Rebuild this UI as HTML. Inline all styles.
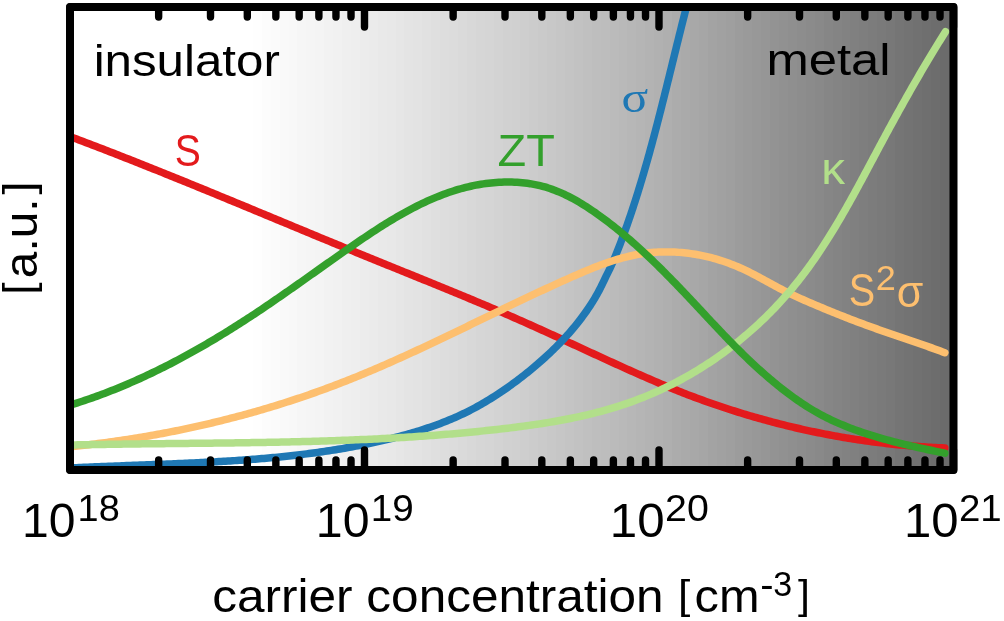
<!DOCTYPE html><html><head><meta charset="utf-8"><style>html,body{margin:0;padding:0;background:#fff;overflow:hidden}svg{display:block;will-change:transform}text{font-family:"Liberation Sans",sans-serif}</style></head><body>
<svg width="1004" height="621" viewBox="0 0 1004 621">
<defs><clipPath id="ax"><rect x="70.00" y="7.00" width="883.50" height="463.00"/></clipPath></defs>
<g clip-path="url(#ax)" shape-rendering="crispEdges"><rect x="252.82" y="7.0" width="9.52" height="463.0" fill="#fefefe"/><rect x="261.74" y="7.0" width="9.52" height="463.0" fill="#fcfcfc"/><rect x="270.66" y="7.0" width="9.52" height="463.0" fill="#fbfbfb"/><rect x="279.58" y="7.0" width="9.52" height="463.0" fill="#f9f9f9"/><rect x="288.50" y="7.0" width="9.52" height="463.0" fill="#f8f8f8"/><rect x="297.42" y="7.0" width="9.52" height="463.0" fill="#f6f6f6"/><rect x="306.34" y="7.0" width="9.52" height="463.0" fill="#f5f5f5"/><rect x="315.26" y="7.0" width="9.52" height="463.0" fill="#f4f4f4"/><rect x="324.18" y="7.0" width="9.52" height="463.0" fill="#f2f2f2"/><rect x="333.10" y="7.0" width="9.52" height="463.0" fill="#f1f1f1"/><rect x="342.02" y="7.0" width="9.52" height="463.0" fill="#efefef"/><rect x="350.94" y="7.0" width="9.52" height="463.0" fill="#eeeeee"/><rect x="359.86" y="7.0" width="9.52" height="463.0" fill="#ececec"/><rect x="368.78" y="7.0" width="9.52" height="463.0" fill="#ebebeb"/><rect x="377.70" y="7.0" width="9.52" height="463.0" fill="#e9e9e9"/><rect x="386.62" y="7.0" width="9.52" height="463.0" fill="#e8e8e8"/><rect x="395.54" y="7.0" width="9.52" height="463.0" fill="#e6e6e6"/><rect x="404.46" y="7.0" width="9.52" height="463.0" fill="#e4e4e4"/><rect x="413.38" y="7.0" width="9.52" height="463.0" fill="#e3e3e3"/><rect x="422.30" y="7.0" width="9.52" height="463.0" fill="#e1e1e1"/><rect x="431.22" y="7.0" width="9.52" height="463.0" fill="#dfdfdf"/><rect x="440.14" y="7.0" width="9.52" height="463.0" fill="#dddddd"/><rect x="449.06" y="7.0" width="9.52" height="463.0" fill="#dcdcdc"/><rect x="457.98" y="7.0" width="9.52" height="463.0" fill="#dadada"/><rect x="466.90" y="7.0" width="9.52" height="463.0" fill="#d8d8d8"/><rect x="475.82" y="7.0" width="9.52" height="463.0" fill="#d6d6d6"/><rect x="484.74" y="7.0" width="9.52" height="463.0" fill="#d5d5d5"/><rect x="493.66" y="7.0" width="9.52" height="463.0" fill="#d3d3d3"/><rect x="502.58" y="7.0" width="9.52" height="463.0" fill="#d1d1d1"/><rect x="511.50" y="7.0" width="9.52" height="463.0" fill="#d0d0d0"/><rect x="520.42" y="7.0" width="9.52" height="463.0" fill="#cecece"/><rect x="529.34" y="7.0" width="9.52" height="463.0" fill="#cccccc"/><rect x="538.26" y="7.0" width="9.52" height="463.0" fill="#cacaca"/><rect x="547.18" y="7.0" width="9.52" height="463.0" fill="#c8c8c8"/><rect x="556.10" y="7.0" width="9.52" height="463.0" fill="#c6c6c6"/><rect x="565.02" y="7.0" width="9.52" height="463.0" fill="#c4c4c4"/><rect x="573.94" y="7.0" width="9.52" height="463.0" fill="#c2c2c2"/><rect x="582.86" y="7.0" width="9.52" height="463.0" fill="#c0c0c0"/><rect x="591.78" y="7.0" width="9.52" height="463.0" fill="#bebebe"/><rect x="600.70" y="7.0" width="9.52" height="463.0" fill="#bdbdbd"/><rect x="609.62" y="7.0" width="9.52" height="463.0" fill="#bbbbbb"/><rect x="618.54" y="7.0" width="9.52" height="463.0" fill="#b9b9b9"/><rect x="627.46" y="7.0" width="9.52" height="463.0" fill="#b7b7b7"/><rect x="636.38" y="7.0" width="9.52" height="463.0" fill="#b5b5b5"/><rect x="645.30" y="7.0" width="9.52" height="463.0" fill="#b3b3b3"/><rect x="654.22" y="7.0" width="9.52" height="463.0" fill="#b1b1b1"/><rect x="663.14" y="7.0" width="9.52" height="463.0" fill="#afafaf"/><rect x="672.06" y="7.0" width="9.52" height="463.0" fill="#acacac"/><rect x="680.98" y="7.0" width="9.52" height="463.0" fill="#aaaaaa"/><rect x="689.90" y="7.0" width="9.52" height="463.0" fill="#a8a8a8"/><rect x="698.82" y="7.0" width="9.52" height="463.0" fill="#a6a6a6"/><rect x="707.74" y="7.0" width="9.52" height="463.0" fill="#a3a3a3"/><rect x="716.66" y="7.0" width="9.52" height="463.0" fill="#a1a1a1"/><rect x="725.58" y="7.0" width="9.52" height="463.0" fill="#9f9f9f"/><rect x="734.50" y="7.0" width="9.52" height="463.0" fill="#9c9c9c"/><rect x="743.42" y="7.0" width="9.52" height="463.0" fill="#9a9a9a"/><rect x="752.34" y="7.0" width="9.52" height="463.0" fill="#989898"/><rect x="761.26" y="7.0" width="9.52" height="463.0" fill="#969696"/><rect x="770.18" y="7.0" width="9.52" height="463.0" fill="#939393"/><rect x="779.10" y="7.0" width="9.52" height="463.0" fill="#919191"/><rect x="788.02" y="7.0" width="9.52" height="463.0" fill="#8f8f8f"/><rect x="796.94" y="7.0" width="9.52" height="463.0" fill="#8d8d8d"/><rect x="805.86" y="7.0" width="9.52" height="463.0" fill="#8b8b8b"/><rect x="814.78" y="7.0" width="9.52" height="463.0" fill="#898989"/><rect x="823.70" y="7.0" width="9.52" height="463.0" fill="#868686"/><rect x="832.62" y="7.0" width="9.52" height="463.0" fill="#848484"/><rect x="841.54" y="7.0" width="9.52" height="463.0" fill="#828282"/><rect x="850.46" y="7.0" width="9.52" height="463.0" fill="#808080"/><rect x="859.38" y="7.0" width="9.52" height="463.0" fill="#7e7e7e"/><rect x="868.30" y="7.0" width="9.52" height="463.0" fill="#7c7c7c"/><rect x="877.22" y="7.0" width="9.52" height="463.0" fill="#7a7a7a"/><rect x="886.14" y="7.0" width="9.52" height="463.0" fill="#787878"/><rect x="895.06" y="7.0" width="9.52" height="463.0" fill="#757575"/><rect x="903.98" y="7.0" width="9.52" height="463.0" fill="#737373"/><rect x="912.90" y="7.0" width="9.52" height="463.0" fill="#717171"/><rect x="921.82" y="7.0" width="9.52" height="463.0" fill="#6f6f6f"/><rect x="930.74" y="7.0" width="9.52" height="463.0" fill="#6d6d6d"/><rect x="939.66" y="7.0" width="9.52" height="463.0" fill="#6b6b6b"/><rect x="948.58" y="7.0" width="9.52" height="463.0" fill="#696969"/></g>
<g clip-path="url(#ax)" fill="none" stroke-width="7.50" stroke-linecap="round" stroke-linejoin="round">
<path d="M70.13,136.62 L72.32,137.44 L74.51,138.26 L76.71,139.09 L78.90,139.91 L81.09,140.74 L83.28,141.57 L85.47,142.40 L87.66,143.24 L89.86,144.07 L92.05,144.91 L94.24,145.75 L96.43,146.59 L98.62,147.43 L100.80,148.27 L102.99,149.12 L105.18,149.96 L107.37,150.81 L109.56,151.66 L111.75,152.51 L113.93,153.36 L116.12,154.21 L118.31,155.06 L120.49,155.92 L122.68,156.78 L124.87,157.63 L127.05,158.49 L129.24,159.35 L131.42,160.21 L133.61,161.08 L135.79,161.94 L137.98,162.80 L140.16,163.67 L142.34,164.54 L144.53,165.41 L146.71,166.28 L148.89,167.15 L151.07,168.02 L153.26,168.89 L155.44,169.76 L157.62,170.64 L159.80,171.51 L161.98,172.39 L164.16,173.27 L166.34,174.15 L168.52,175.02 L170.70,175.90 L172.88,176.79 L175.06,177.67 L177.23,178.55 L179.41,179.43 L181.59,180.32 L183.77,181.20 L185.94,182.09 L188.12,182.97 L190.30,183.86 L192.47,184.75 L194.65,185.64 L196.83,186.52 L199.00,187.41 L201.18,188.30 L203.35,189.19 L205.52,190.08 L207.70,190.98 L209.87,191.87 L212.04,192.76 L214.22,193.65 L216.39,194.55 L218.56,195.44 L220.73,196.34 L222.91,197.23 L225.08,198.13 L227.25,199.02 L229.42,199.92 L231.59,200.81 L233.76,201.71 L235.93,202.61 L238.10,203.50 L240.27,204.40 L242.43,205.30 L244.60,206.20 L246.77,207.09 L248.94,207.99 L251.10,208.89 L253.27,209.79 L255.44,210.69 L257.60,211.59 L259.77,212.48 L261.94,213.38 L264.10,214.28 L266.27,215.18 L268.43,216.08 L270.59,216.98 L272.76,217.87 L274.92,218.77 L277.09,219.67 L279.25,220.57 L281.41,221.47 L283.57,222.37 L285.73,223.26 L287.90,224.16 L290.06,225.06 L292.22,225.96 L294.38,226.85 L296.54,227.75 L298.70,228.64 L300.86,229.54 L303.02,230.44 L305.17,231.33 L307.33,232.23 L309.49,233.12 L311.65,234.02 L313.81,234.91 L315.96,235.80 L318.12,236.69 L320.28,237.59 L322.43,238.48 L324.59,239.37 L326.74,240.26 L328.90,241.15 L331.05,242.04 L333.21,242.93 L335.36,243.82 L337.51,244.71 L339.67,245.59 L341.82,246.48 L343.97,247.36 L346.12,248.25 L348.27,249.13 L350.43,250.02 L352.58,250.90 L354.73,251.78 L356.88,252.66 L359.03,253.54 L361.18,254.42 L363.33,255.30 L365.47,256.18 L367.62,257.06 L369.77,257.93 L371.92,258.81 L374.07,259.68 L376.21,260.55 L378.36,261.43 L380.51,262.30 L382.65,263.17 L384.80,264.04 L386.94,264.91 L389.09,265.78 L391.23,266.65 L393.37,267.51 L395.52,268.38 L397.66,269.25 L399.80,270.12 L401.95,270.98 L404.09,271.85 L406.23,272.72 L408.37,273.58 L410.51,274.45 L412.65,275.32 L414.79,276.18 L416.93,277.05 L419.07,277.92 L421.21,278.79 L423.34,279.65 L425.48,280.52 L427.62,281.39 L429.76,282.26 L431.89,283.13 L434.03,284.00 L436.16,284.87 L438.30,285.74 L440.43,286.61 L442.56,287.48 L444.70,288.36 L446.83,289.23 L448.96,290.11 L451.09,290.98 L453.22,291.86 L455.36,292.74 L457.49,293.62 L459.61,294.50 L461.74,295.38 L463.87,296.26 L466.00,297.14 L468.13,298.03 L470.25,298.92 L472.38,299.80 L474.51,300.69 L476.63,301.59 L478.76,302.48 L480.88,303.37 L483.00,304.27 L485.13,305.17 L487.25,306.07 L489.37,306.97 L491.49,307.87 L493.61,308.78 L495.73,309.68 L497.85,310.59 L499.97,311.50 L502.09,312.42 L504.21,313.33 L506.33,314.25 L508.44,315.17 L510.56,316.09 L512.67,317.02 L514.79,317.95 L516.90,318.88 L519.02,319.81 L521.13,320.75 L523.24,321.68 L525.35,322.62 L527.47,323.57 L529.58,324.51 L531.69,325.46 L533.80,326.41 L535.91,327.36 L538.02,328.31 L540.13,329.27 L542.23,330.22 L544.34,331.18 L546.45,332.14 L548.56,333.10 L550.67,334.07 L552.78,335.03 L554.89,336.00 L557.00,336.96 L559.11,337.93 L561.22,338.90 L563.33,339.87 L565.44,340.84 L567.55,341.81 L569.66,342.79 L571.77,343.76 L573.88,344.74 L575.99,345.71 L578.11,346.69 L580.22,347.66 L582.34,348.64 L584.45,349.61 L586.57,350.59 L588.68,351.56 L590.80,352.54 L592.92,353.52 L595.04,354.49 L597.16,355.47 L599.28,356.44 L601.40,357.42 L603.53,358.39 L605.65,359.37 L607.78,360.34 L609.91,361.31 L612.03,362.28 L614.16,363.25 L616.30,364.22 L618.43,365.19 L620.56,366.16 L622.70,367.12 L624.84,368.09 L626.98,369.05 L629.12,370.01 L631.26,370.97 L633.40,371.93 L635.55,372.88 L637.70,373.83 L639.85,374.78 L642.00,375.73 L644.15,376.67 L646.30,377.61 L648.46,378.55 L650.62,379.48 L652.78,380.41 L654.94,381.34 L657.11,382.26 L659.27,383.18 L661.44,384.09 L663.61,385.00 L665.78,385.90 L667.96,386.80 L670.13,387.69 L672.31,388.58 L674.49,389.46 L676.68,390.34 L678.86,391.21 L681.05,392.07 L683.24,392.93 L685.43,393.78 L687.63,394.63 L689.82,395.46 L692.02,396.30 L694.22,397.12 L696.43,397.94 L698.63,398.76 L700.84,399.57 L703.05,400.37 L705.26,401.16 L707.47,401.95 L709.69,402.74 L711.91,403.51 L714.13,404.28 L716.35,405.05 L718.58,405.80 L720.80,406.55 L723.03,407.30 L725.26,408.04 L727.50,408.77 L729.73,409.50 L731.97,410.22 L734.21,410.93 L736.45,411.63 L738.69,412.33 L740.94,413.03 L743.18,413.72 L745.43,414.40 L747.68,415.07 L749.94,415.74 L752.19,416.40 L754.45,417.06 L756.71,417.70 L758.97,418.35 L761.23,418.98 L763.49,419.61 L765.76,420.23 L768.03,420.85 L770.29,421.46 L772.57,422.06 L774.84,422.66 L777.11,423.25 L779.39,423.83 L781.67,424.41 L783.95,424.98 L786.23,425.54 L788.51,426.10 L790.80,426.65 L793.09,427.19 L795.38,427.73 L797.67,428.26 L799.96,428.78 L802.25,429.30 L804.55,429.81 L806.84,430.31 L809.14,430.81 L811.44,431.30 L813.74,431.79 L816.05,432.26 L818.35,432.73 L820.66,433.20 L822.97,433.65 L825.28,434.10 L827.59,434.55 L829.90,434.98 L832.21,435.41 L834.53,435.84 L836.84,436.25 L839.16,436.66 L841.48,437.07 L843.80,437.46 L846.13,437.85 L848.45,438.23 L850.78,438.61 L853.10,438.98 L855.43,439.34 L857.76,439.70 L860.09,440.04 L862.42,440.39 L864.76,440.72 L867.09,441.05 L869.43,441.37 L871.77,441.68 L874.11,441.99 L876.45,442.29 L878.79,442.58 L881.13,442.87 L883.47,443.15 L885.82,443.42 L888.16,443.68 L890.51,443.94 L892.86,444.19 L895.21,444.44 L897.56,444.68 L899.91,444.91 L902.27,445.13 L904.62,445.35 L906.98,445.56 L909.33,445.76 L911.69,445.95 L914.05,446.14 L916.41,446.32 L918.77,446.50 L921.13,446.66 L923.49,446.82 L925.86,446.98 L928.22,447.12 L930.59,447.26 L932.96,447.39 L935.32,447.52 L937.69,447.63 L940.06,447.74 L942.43,447.85 L944.80,447.94" stroke="#e31a1c"/>
<path d="M70.07,468.02 L72.31,467.90 L74.55,467.79 L76.80,467.68 L79.04,467.58 L81.28,467.47 L83.53,467.37 L85.77,467.26 L88.02,467.16 L90.26,467.06 L92.51,466.96 L94.76,466.87 L97.01,466.77 L99.26,466.68 L101.51,466.59 L103.76,466.49 L106.01,466.40 L108.26,466.31 L110.51,466.22 L112.76,466.14 L115.01,466.05 L117.27,465.96 L119.52,465.88 L121.78,465.79 L124.03,465.70 L126.29,465.62 L128.54,465.54 L130.80,465.45 L133.05,465.37 L135.31,465.28 L137.57,465.20 L139.82,465.12 L142.08,465.03 L144.34,464.95 L146.60,464.86 L148.86,464.78 L151.12,464.69 L153.37,464.61 L155.63,464.52 L157.89,464.44 L160.15,464.35 L162.41,464.26 L164.67,464.17 L166.93,464.08 L169.19,463.99 L171.45,463.90 L173.71,463.81 L175.97,463.71 L178.23,463.62 L180.50,463.52 L182.76,463.42 L185.02,463.32 L187.28,463.22 L189.54,463.12 L191.80,463.02 L194.06,462.91 L196.32,462.80 L198.58,462.69 L200.84,462.58 L203.10,462.47 L205.36,462.35 L207.62,462.24 L209.88,462.12 L212.14,461.99 L214.40,461.87 L216.66,461.74 L218.92,461.61 L221.18,461.48 L223.44,461.35 L225.70,461.21 L227.95,461.07 L230.21,460.93 L232.47,460.78 L234.73,460.63 L236.98,460.48 L239.24,460.33 L241.50,460.17 L243.75,460.01 L246.01,459.84 L248.26,459.67 L250.52,459.50 L252.77,459.32 L255.03,459.15 L257.28,458.96 L259.53,458.78 L261.79,458.59 L264.04,458.39 L266.29,458.19 L268.54,457.99 L270.79,457.78 L273.04,457.57 L275.29,457.36 L277.54,457.14 L279.78,456.92 L282.03,456.69 L284.28,456.46 L286.52,456.22 L288.77,455.98 L291.01,455.73 L293.26,455.48 L295.50,455.22 L297.74,454.96 L299.98,454.69 L302.23,454.42 L304.47,454.14 L306.70,453.86 L308.94,453.58 L311.18,453.28 L313.42,452.98 L315.65,452.68 L317.89,452.37 L320.12,452.06 L322.35,451.73 L324.59,451.41 L326.82,451.08 L329.05,450.74 L331.28,450.39 L333.50,450.04 L335.73,449.68 L337.96,449.32 L340.18,448.95 L342.41,448.58 L344.63,448.19 L346.85,447.81 L349.07,447.41 L351.29,447.01 L353.51,446.60 L355.73,446.18 L357.95,445.76 L360.16,445.33 L362.37,444.90 L364.59,444.45 L366.80,444.00 L369.01,443.54 L371.22,443.08 L373.43,442.61 L375.63,442.13 L377.84,441.64 L380.04,441.14 L382.24,440.64 L384.44,440.13 L386.64,439.61 L388.84,439.08 L391.04,438.55 L393.23,438.00 L395.42,437.45 L397.61,436.89 L399.79,436.31 L401.97,435.73 L404.15,435.14 L406.33,434.54 L408.50,433.93 L410.67,433.31 L412.84,432.68 L415.00,432.03 L417.15,431.38 L419.31,430.71 L421.45,430.03 L423.60,429.35 L425.74,428.64 L427.87,427.93 L430.00,427.21 L432.12,426.47 L434.24,425.72 L436.35,424.95 L438.45,424.18 L440.55,423.39 L442.64,422.58 L444.73,421.77 L446.81,420.93 L448.88,420.09 L450.95,419.23 L453.01,418.35 L455.06,417.46 L457.10,416.56 L459.14,415.64 L461.17,414.70 L463.18,413.75 L465.20,412.78 L467.20,411.80 L469.19,410.80 L471.18,409.78 L473.16,408.75 L475.13,407.70 L477.09,406.63 L479.04,405.55 L480.98,404.45 L482.92,403.34 L484.85,402.21 L486.77,401.07 L488.68,399.91 L490.59,398.74 L492.49,397.55 L494.38,396.35 L496.27,395.14 L498.15,393.91 L500.02,392.66 L501.89,391.41 L503.75,390.14 L505.60,388.85 L507.45,387.56 L509.30,386.25 L511.13,384.93 L512.97,383.59 L514.79,382.25 L516.62,380.89 L518.44,379.52 L520.25,378.14 L522.06,376.74 L523.86,375.34 L525.65,373.92 L527.44,372.49 L529.22,371.05 L530.99,369.60 L532.76,368.14 L534.52,366.67 L536.27,365.18 L538.01,363.69 L539.74,362.19 L541.46,360.67 L543.17,359.14 L544.87,357.61 L546.56,356.06 L548.23,354.50 L549.90,352.94 L551.56,351.36 L553.20,349.77 L554.83,348.17 L556.44,346.57 L558.05,344.95 L559.63,343.32 L561.21,341.69 L562.77,340.05 L564.31,338.39 L565.84,336.73 L567.36,335.06 L568.86,333.38 L570.34,331.69 L571.80,329.99 L573.25,328.28 L574.68,326.57 L576.09,324.84 L577.49,323.11 L578.86,321.37 L580.22,319.62 L581.56,317.86 L582.87,316.10 L584.17,314.33 L585.45,312.55 L586.70,310.76 L587.94,308.96 L589.15,307.16 L590.34,305.35 L591.51,303.53 L592.65,301.71 L593.78,299.88 L594.87,298.04 L595.95,296.19 L597.00,294.34 L598.03,292.48 L599.03,290.62 L600.00,288.75 L600.95,286.87 L601.88,285.00 L602.78,283.15 L603.65,281.33 L604.50,279.55 L605.32,277.82 L606.12,276.17 L606.90,274.60 L607.65,273.11 L608.39,271.65 L609.13,270.16 L609.88,268.59 L610.65,266.97 L611.42,265.29 L612.19,263.55 L612.98,261.76 L613.77,259.93 L614.56,258.05 L615.35,256.13 L616.15,254.18 L616.95,252.20 L617.74,250.19 L618.54,248.16 L619.34,246.11 L620.13,244.04 L620.92,241.96 L621.70,239.87 L622.48,237.78 L623.26,235.68 L624.03,233.59 L624.79,231.49 L625.54,229.38 L626.29,227.28 L627.04,225.17 L627.78,223.06 L628.51,220.94 L629.24,218.83 L629.97,216.71 L630.69,214.59 L631.40,212.47 L632.11,210.34 L632.81,208.21 L633.51,206.08 L634.21,203.95 L634.90,201.82 L635.58,199.68 L636.26,197.54 L636.94,195.40 L637.61,193.26 L638.28,191.11 L638.94,188.97 L639.60,186.82 L640.26,184.67 L640.91,182.52 L641.56,180.36 L642.20,178.21 L642.84,176.05 L643.48,173.89 L644.11,171.73 L644.74,169.57 L645.36,167.40 L645.98,165.24 L646.60,163.07 L647.21,160.90 L647.83,158.73 L648.43,156.56 L649.04,154.39 L649.64,152.21 L650.24,150.04 L650.84,147.86 L651.43,145.68 L652.02,143.50 L652.61,141.32 L653.19,139.14 L653.78,136.96 L654.36,134.78 L654.94,132.60 L655.51,130.41 L656.08,128.22 L656.66,126.04 L657.23,123.85 L657.79,121.66 L658.36,119.47 L658.92,117.28 L659.48,115.09 L660.04,112.90 L660.60,110.71 L661.16,108.52 L661.71,106.33 L662.26,104.14 L662.82,101.94 L663.37,99.75 L663.92,97.56 L664.47,95.36 L665.01,93.17 L665.56,90.97 L666.10,88.78 L666.65,86.58 L667.19,84.39 L667.73,82.19 L668.28,80.00 L668.82,77.80 L669.36,75.61 L669.90,73.41 L670.44,71.22 L670.98,69.02 L671.52,66.83 L672.06,64.63 L672.60,62.44 L673.14,60.25 L673.67,58.05 L674.21,55.86 L674.75,53.67 L675.29,51.48 L675.83,49.29 L676.37,47.09 L676.91,44.90 L677.46,42.71 L678.00,40.53 L678.54,38.34 L679.08,36.15 L679.63,33.96 L680.17,31.78 L680.72,29.59 L681.27,27.41 L681.81,25.22 L682.36,23.04 L682.91,20.86 L683.47,18.68 L684.02,16.50 L684.57,14.32 L685.13,12.15 L685.69,9.97 L686.25,7.79 L686.81,5.62 L687.37,3.45 L687.94,1.28 L688.51,-0.89" stroke="#1f78b4"/>
<path d="M70.10,446.70 L72.41,446.47 L74.72,446.23 L77.04,445.98 L79.35,445.73 L81.66,445.48 L83.97,445.22 L86.29,444.96 L88.60,444.69 L90.91,444.41 L93.22,444.14 L95.53,443.85 L97.85,443.56 L100.16,443.27 L102.47,442.97 L104.78,442.67 L107.09,442.36 L109.40,442.04 L111.71,441.73 L114.02,441.40 L116.32,441.07 L118.63,440.74 L120.94,440.40 L123.25,440.06 L125.56,439.71 L127.86,439.36 L130.17,439.00 L132.47,438.63 L134.78,438.27 L137.08,437.89 L139.39,437.51 L141.69,437.13 L143.99,436.74 L146.29,436.35 L148.60,435.95 L150.90,435.55 L153.20,435.14 L155.49,434.73 L157.79,434.31 L160.09,433.88 L162.39,433.45 L164.68,433.02 L166.98,432.58 L169.27,432.14 L171.57,431.69 L173.86,431.24 L176.15,430.78 L178.44,430.31 L180.73,429.84 L183.02,429.37 L185.31,428.89 L187.59,428.41 L189.88,427.92 L192.17,427.42 L194.45,426.92 L196.73,426.42 L199.01,425.91 L201.29,425.40 L203.57,424.88 L205.85,424.35 L208.13,423.82 L210.40,423.29 L212.68,422.75 L214.95,422.20 L217.22,421.65 L219.49,421.10 L221.76,420.54 L224.03,419.97 L226.30,419.40 L228.56,418.83 L230.83,418.24 L233.09,417.66 L235.35,417.07 L237.61,416.47 L239.87,415.87 L242.13,415.26 L244.38,414.65 L246.63,414.04 L248.89,413.41 L251.14,412.79 L253.39,412.15 L255.63,411.52 L257.88,410.88 L260.12,410.23 L262.36,409.57 L264.61,408.92 L266.84,408.25 L269.08,407.59 L271.32,406.91 L273.55,406.23 L275.78,405.55 L278.01,404.86 L280.24,404.17 L282.47,403.47 L284.69,402.76 L286.92,402.05 L289.14,401.34 L291.36,400.62 L293.57,399.89 L295.79,399.16 L298.00,398.43 L300.21,397.69 L302.42,396.94 L304.63,396.19 L306.83,395.43 L309.03,394.67 L311.24,393.91 L313.43,393.13 L315.63,392.36 L317.82,391.57 L320.02,390.79 L322.21,389.99 L324.39,389.20 L326.58,388.39 L328.76,387.58 L330.94,386.77 L333.12,385.95 L335.30,385.13 L337.47,384.30 L339.64,383.46 L341.81,382.62 L343.98,381.78 L346.14,380.93 L348.30,380.07 L350.46,379.21 L352.62,378.35 L354.78,377.48 L356.93,376.60 L359.08,375.72 L361.23,374.84 L363.38,373.95 L365.52,373.06 L367.67,372.16 L369.81,371.26 L371.95,370.35 L374.08,369.44 L376.22,368.53 L378.35,367.61 L380.48,366.69 L382.62,365.76 L384.74,364.83 L386.87,363.90 L389.00,362.96 L391.12,362.02 L393.24,361.08 L395.37,360.13 L397.49,359.18 L399.60,358.23 L401.72,357.27 L403.84,356.31 L405.95,355.35 L408.07,354.38 L410.18,353.41 L412.29,352.44 L414.40,351.47 L416.51,350.49 L418.62,349.52 L420.72,348.54 L422.83,347.55 L424.93,346.57 L427.04,345.58 L429.14,344.59 L431.25,343.60 L433.35,342.60 L435.45,341.61 L437.55,340.61 L439.65,339.61 L441.75,338.61 L443.85,337.61 L445.95,336.61 L448.04,335.60 L450.14,334.60 L452.24,333.59 L454.34,332.58 L456.43,331.57 L458.53,330.56 L460.63,329.55 L462.72,328.54 L464.82,327.52 L466.91,326.51 L469.01,325.50 L471.10,324.48 L473.20,323.47 L475.29,322.45 L477.39,321.43 L479.49,320.42 L481.58,319.40 L483.68,318.38 L485.77,317.37 L487.87,316.35 L489.97,315.34 L492.07,314.32 L494.16,313.31 L496.26,312.29 L498.36,311.28 L500.46,310.26 L502.56,309.25 L504.66,308.24 L506.76,307.22 L508.86,306.21 L510.96,305.20 L513.07,304.20 L515.17,303.19 L517.28,302.18 L519.38,301.18 L521.49,300.17 L523.59,299.17 L525.70,298.17 L527.81,297.17 L529.92,296.17 L532.03,295.18 L534.15,294.18 L536.26,293.19 L538.38,292.20 L540.49,291.21 L542.61,290.23 L544.73,289.24 L546.85,288.26 L548.97,287.28 L551.09,286.31 L553.22,285.33 L555.35,284.36 L557.47,283.39 L559.60,282.43 L561.73,281.46 L563.87,280.50 L566.00,279.55 L568.14,278.59 L570.27,277.64 L572.41,276.69 L574.56,275.75 L576.70,274.81 L578.85,273.88 L580.99,272.95 L583.15,272.04 L585.30,271.13 L587.46,270.23 L589.61,269.34 L591.78,268.46 L593.94,267.60 L596.11,266.74 L598.28,265.91 L600.46,265.09 L602.63,264.28 L604.82,263.49 L607.00,262.72 L609.19,261.97 L611.39,261.24 L613.59,260.53 L615.79,259.84 L617.99,259.18 L620.21,258.54 L622.42,257.92 L624.64,257.33 L626.87,256.76 L629.10,256.23 L631.34,255.72 L633.58,255.24 L635.83,254.79 L638.08,254.37 L640.34,253.99 L642.60,253.63 L644.87,253.31 L647.14,253.03 L649.42,252.77 L651.71,252.55 L653.99,252.36 L656.28,252.21 L658.58,252.08 L660.87,251.99 L663.17,251.93 L665.47,251.90 L667.78,251.90 L670.08,251.93 L672.38,251.99 L674.69,252.09 L676.99,252.22 L679.29,252.37 L681.60,252.56 L683.90,252.78 L686.20,253.03 L688.50,253.31 L690.79,253.62 L693.09,253.95 L695.38,254.32 L697.67,254.72 L699.95,255.15 L702.23,255.61 L704.50,256.09 L706.77,256.61 L709.03,257.15 L711.29,257.72 L713.54,258.33 L715.79,258.96 L718.03,259.61 L720.26,260.30 L722.48,261.02 L724.70,261.76 L726.91,262.53 L729.10,263.33 L731.29,264.15 L733.47,265.01 L735.64,265.89 L737.80,266.79 L739.95,267.73 L742.08,268.69 L744.21,269.67 L746.33,270.68 L748.44,271.71 L750.54,272.76 L752.63,273.82 L754.72,274.90 L756.80,275.99 L758.88,277.10 L760.95,278.21 L763.02,279.33 L765.09,280.46 L767.16,281.59 L769.22,282.72 L771.29,283.85 L773.35,284.97 L775.42,286.10 L777.49,287.22 L779.56,288.32 L781.64,289.42 L783.72,290.51 L785.80,291.59 L787.90,292.64 L789.99,293.68 L792.10,294.71 L794.22,295.70 L796.34,296.68 L798.47,297.64 L800.61,298.58 L802.75,299.53 L804.89,300.46 L807.03,301.40 L809.18,302.33 L811.32,303.25 L813.47,304.17 L815.63,305.09 L817.78,306.00 L819.94,306.91 L822.10,307.81 L824.26,308.71 L826.42,309.61 L828.59,310.50 L830.75,311.38 L832.92,312.26 L835.09,313.14 L837.27,314.01 L839.44,314.88 L841.62,315.74 L843.79,316.60 L845.97,317.45 L848.15,318.30 L850.34,319.14 L852.52,319.98 L854.71,320.81 L856.89,321.64 L859.08,322.46 L861.27,323.28 L863.46,324.10 L865.65,324.91 L867.85,325.71 L870.04,326.51 L872.24,327.30 L874.43,328.09 L876.63,328.88 L878.83,329.66 L881.03,330.43 L883.23,331.20 L885.43,331.97 L887.63,332.73 L889.83,333.49 L892.03,334.24 L894.24,335.00 L896.44,335.75 L898.64,336.50 L900.85,337.24 L903.05,337.99 L905.25,338.74 L907.46,339.49 L909.66,340.24 L911.86,340.99 L914.07,341.74 L916.27,342.50 L918.47,343.25 L920.67,344.02 L922.87,344.78 L925.07,345.55 L927.27,346.32 L929.46,347.10 L931.66,347.89 L933.86,348.68 L936.05,349.47 L938.24,350.28 L940.43,351.09 L942.62,351.91 L944.81,352.74" stroke="#fdbf6f"/>
<path d="M69.84,445.04 L72.53,444.98 L75.23,444.92 L77.92,444.87 L80.62,444.81 L83.31,444.76 L86.01,444.71 L88.70,444.66 L91.39,444.61 L94.08,444.56 L96.77,444.51 L99.46,444.47 L102.15,444.42 L104.84,444.38 L107.53,444.34 L110.22,444.29 L112.90,444.25 L115.59,444.21 L118.27,444.18 L120.96,444.14 L123.64,444.10 L126.33,444.07 L129.01,444.03 L131.69,444.00 L134.37,443.96 L137.06,443.93 L139.74,443.90 L142.42,443.87 L145.10,443.84 L147.77,443.81 L150.45,443.78 L153.13,443.75 L155.81,443.72 L158.48,443.69 L161.16,443.66 L163.84,443.63 L166.51,443.61 L169.19,443.58 L171.86,443.55 L174.53,443.52 L177.21,443.50 L179.88,443.47 L182.55,443.44 L185.23,443.42 L187.90,443.39 L190.57,443.36 L193.24,443.33 L195.91,443.31 L198.58,443.28 L201.25,443.25 L203.92,443.22 L206.59,443.19 L209.26,443.16 L211.92,443.13 L214.59,443.10 L217.26,443.07 L219.93,443.04 L222.59,443.01 L225.26,442.98 L227.93,442.95 L230.59,442.91 L233.26,442.88 L235.92,442.84 L238.59,442.81 L241.25,442.77 L243.92,442.73 L246.58,442.70 L249.24,442.66 L251.91,442.62 L254.57,442.57 L257.23,442.53 L259.90,442.49 L262.56,442.44 L265.22,442.40 L267.88,442.35 L270.55,442.30 L273.21,442.25 L275.87,442.20 L278.53,442.15 L281.19,442.09 L283.85,442.04 L286.52,441.98 L289.18,441.92 L291.84,441.86 L294.50,441.80 L297.16,441.74 L299.82,441.67 L302.48,441.61 L305.14,441.54 L307.80,441.47 L310.46,441.40 L313.12,441.32 L315.78,441.25 L318.44,441.17 L321.10,441.09 L323.76,441.01 L326.42,440.92 L329.08,440.84 L331.74,440.75 L334.40,440.66 L337.06,440.56 L339.72,440.47 L342.38,440.37 L345.04,440.27 L347.70,440.17 L350.36,440.07 L353.02,439.96 L355.68,439.85 L358.34,439.74 L361.00,439.62 L363.66,439.50 L366.32,439.38 L368.98,439.26 L371.64,439.14 L374.30,439.01 L376.97,438.88 L379.63,438.74 L382.29,438.61 L384.95,438.47 L387.61,438.32 L390.27,438.18 L392.93,438.03 L395.60,437.88 L398.26,437.72 L400.92,437.56 L403.58,437.40 L406.25,437.24 L408.91,437.07 L411.57,436.90 L414.23,436.72 L416.90,436.54 L419.56,436.36 L422.23,436.18 L424.89,435.99 L427.56,435.80 L430.22,435.60 L432.89,435.40 L435.55,435.20 L438.22,434.99 L440.88,434.78 L443.55,434.57 L446.22,434.35 L448.88,434.12 L451.55,433.90 L454.22,433.67 L456.89,433.43 L459.56,433.20 L462.22,432.95 L464.89,432.71 L467.56,432.46 L470.23,432.20 L472.90,431.94 L475.57,431.68 L478.25,431.41 L480.92,431.14 L483.59,430.87 L486.26,430.58 L488.94,430.30 L491.61,430.01 L494.28,429.72 L496.96,429.42 L499.63,429.11 L502.31,428.81 L504.98,428.49 L507.66,428.17 L510.33,427.85 L513.01,427.52 L515.68,427.19 L518.36,426.84 L521.03,426.49 L523.71,426.14 L526.38,425.78 L529.05,425.40 L531.72,425.03 L534.39,424.64 L537.06,424.24 L539.72,423.84 L542.38,423.43 L545.05,423.01 L547.71,422.58 L550.36,422.14 L553.02,421.68 L555.67,421.22 L558.32,420.75 L560.96,420.27 L563.61,419.77 L566.25,419.27 L568.88,418.75 L571.51,418.22 L574.14,417.68 L576.77,417.13 L579.39,416.56 L582.00,415.98 L584.62,415.39 L587.22,414.78 L589.83,414.16 L592.43,413.52 L595.02,412.87 L597.61,412.21 L600.19,411.53 L602.77,410.83 L605.34,410.12 L607.91,409.40 L610.47,408.65 L613.02,407.89 L615.57,407.12 L618.11,406.32 L620.64,405.51 L623.17,404.69 L625.69,403.84 L628.21,402.97 L630.71,402.09 L633.21,401.19 L635.71,400.27 L638.19,399.33 L640.67,398.37 L643.14,397.40 L645.60,396.40 L648.05,395.39 L650.50,394.36 L652.94,393.31 L655.37,392.25 L657.79,391.16 L660.20,390.06 L662.61,388.94 L665.00,387.80 L667.39,386.65 L669.77,385.48 L672.14,384.29 L674.50,383.08 L676.86,381.86 L679.20,380.62 L681.54,379.36 L683.86,378.08 L686.18,376.79 L688.48,375.49 L690.78,374.16 L693.07,372.82 L695.35,371.46 L697.62,370.09 L699.87,368.70 L702.12,367.30 L704.36,365.88 L706.59,364.44 L708.81,362.99 L711.02,361.52 L713.22,360.04 L715.40,358.54 L717.58,357.02 L719.75,355.49 L721.90,353.95 L724.05,352.39 L726.18,350.81 L728.30,349.22 L730.41,347.62 L732.52,346.00 L734.61,344.37 L736.68,342.72 L738.75,341.06 L740.81,339.38 L742.85,337.69 L744.88,335.98 L746.90,334.26 L748.91,332.53 L750.91,330.78 L752.89,329.02 L754.86,327.25 L756.82,325.46 L758.77,323.66 L760.70,321.84 L762.63,320.02 L764.54,318.18 L766.43,316.32 L768.32,314.45 L770.19,312.57 L772.05,310.68 L773.90,308.78 L775.73,306.86 L777.55,304.93 L779.35,302.99 L781.15,301.03 L782.93,299.06 L784.69,297.09 L786.45,295.09 L788.18,293.09 L789.91,291.08 L791.62,289.05 L793.32,287.01 L795.00,284.96 L796.67,282.90 L798.32,280.83 L799.96,278.75 L801.59,276.65 L803.20,274.55 L804.80,272.43 L806.38,270.30 L807.96,268.17 L809.52,266.02 L811.07,263.87 L812.60,261.70 L814.12,259.53 L815.64,257.34 L817.14,255.15 L818.63,252.95 L820.11,250.74 L821.57,248.53 L823.03,246.30 L824.48,244.07 L825.92,241.83 L827.35,239.58 L828.77,237.33 L830.18,235.07 L831.58,232.80 L832.97,230.53 L834.36,228.25 L835.73,225.96 L837.10,223.67 L838.46,221.38 L839.82,219.07 L841.17,216.77 L842.51,214.46 L843.84,212.14 L845.17,209.82 L846.49,207.49 L847.81,205.17 L849.12,202.83 L850.42,200.50 L851.72,198.16 L853.02,195.82 L854.31,193.47 L855.60,191.13 L856.88,188.78 L858.16,186.43 L859.44,184.07 L860.71,181.72 L861.98,179.36 L863.25,177.00 L864.52,174.64 L865.78,172.28 L867.04,169.92 L868.31,167.56 L869.56,165.20 L870.82,162.84 L872.08,160.48 L873.34,158.12 L874.59,155.76 L875.85,153.40 L877.11,151.04 L878.36,148.69 L879.62,146.33 L880.88,143.98 L882.14,141.63 L883.40,139.28 L884.67,136.94 L885.93,134.59 L887.20,132.25 L888.47,129.91 L889.74,127.58 L891.01,125.24 L892.28,122.91 L893.56,120.58 L894.84,118.25 L896.12,115.93 L897.40,113.60 L898.68,111.28 L899.97,108.97 L901.26,106.65 L902.55,104.34 L903.84,102.03 L905.14,99.72 L906.44,97.41 L907.74,95.11 L909.04,92.81 L910.35,90.51 L911.66,88.22 L912.97,85.93 L914.28,83.64 L915.60,81.35 L916.92,79.07 L918.24,76.78 L919.57,74.51 L920.90,72.23 L922.23,69.96 L923.57,67.69 L924.91,65.42 L926.25,63.15 L927.60,60.89 L928.95,58.63 L930.30,56.38 L931.66,54.12 L933.02,51.87 L934.39,49.63 L935.76,47.38 L937.13,45.14 L938.51,42.90 L939.89,40.67 L941.27,38.44 L942.66,36.21 L944.05,33.98 L945.45,31.76" stroke="#b2df8a"/>
<path d="M70.01,405.13 L72.49,404.37 L74.97,403.60 L77.45,402.81 L79.92,402.02 L82.38,401.21 L84.84,400.39 L87.30,399.56 L89.75,398.71 L92.20,397.86 L94.64,396.99 L97.08,396.11 L99.51,395.22 L101.94,394.32 L104.36,393.41 L106.78,392.49 L109.20,391.55 L111.61,390.61 L114.01,389.65 L116.41,388.69 L118.81,387.71 L121.20,386.72 L123.59,385.73 L125.97,384.72 L128.35,383.70 L130.72,382.68 L133.09,381.64 L135.45,380.59 L137.81,379.54 L140.17,378.47 L142.52,377.39 L144.87,376.31 L147.21,375.22 L149.55,374.11 L151.88,373.00 L154.21,371.88 L156.53,370.75 L158.85,369.61 L161.17,368.47 L163.48,367.31 L165.78,366.15 L168.08,364.98 L170.38,363.80 L172.67,362.61 L174.96,361.41 L177.25,360.21 L179.53,359.00 L181.80,357.78 L184.07,356.56 L186.34,355.32 L188.60,354.08 L190.86,352.83 L193.11,351.58 L195.36,350.32 L197.61,349.05 L199.85,347.77 L202.08,346.49 L204.31,345.20 L206.54,343.91 L208.76,342.60 L210.98,341.30 L213.20,339.98 L215.41,338.66 L217.61,337.34 L219.81,336.01 L222.01,334.67 L224.20,333.33 L226.39,331.98 L228.57,330.63 L230.75,329.27 L232.93,327.90 L235.10,326.53 L237.27,325.16 L239.43,323.78 L241.59,322.40 L243.75,321.01 L245.90,319.62 L248.04,318.22 L250.18,316.82 L252.32,315.42 L254.45,314.01 L256.58,312.59 L258.71,311.18 L260.83,309.76 L262.95,308.33 L265.07,306.90 L267.18,305.47 L269.29,304.04 L271.40,302.60 L273.50,301.16 L275.60,299.71 L277.70,298.27 L279.80,296.82 L281.90,295.37 L283.99,293.91 L286.09,292.45 L288.18,290.99 L290.27,289.53 L292.36,288.07 L294.45,286.60 L296.54,285.13 L298.63,283.66 L300.71,282.19 L302.80,280.71 L304.89,279.24 L306.98,277.76 L309.07,276.28 L311.16,274.80 L313.25,273.32 L315.34,271.84 L317.43,270.36 L319.52,268.87 L321.62,267.39 L323.72,265.91 L325.82,264.42 L327.92,262.93 L330.02,261.45 L332.13,259.96 L334.24,258.48 L336.35,256.99 L338.46,255.50 L340.58,254.02 L342.70,252.53 L344.82,251.05 L346.95,249.56 L349.08,248.08 L351.22,246.59 L353.36,245.11 L355.50,243.63 L357.65,242.16 L359.80,240.68 L361.96,239.21 L364.12,237.75 L366.29,236.29 L368.46,234.84 L370.63,233.39 L372.82,231.95 L375.00,230.52 L377.20,229.10 L379.39,227.69 L381.60,226.28 L383.81,224.89 L386.02,223.51 L388.24,222.14 L390.47,220.78 L392.70,219.43 L394.94,218.10 L397.19,216.78 L399.44,215.48 L401.70,214.19 L403.97,212.92 L406.24,211.66 L408.52,210.42 L410.81,209.20 L413.11,208.00 L415.41,206.81 L417.72,205.65 L420.04,204.50 L422.36,203.38 L424.70,202.28 L427.04,201.20 L429.39,200.14 L431.75,199.11 L434.11,198.10 L436.49,197.11 L438.87,196.15 L441.26,195.22 L443.66,194.31 L446.07,193.43 L448.49,192.58 L450.92,191.75 L453.36,190.96 L455.81,190.19 L458.26,189.45 L460.73,188.75 L463.21,188.07 L465.69,187.43 L468.19,186.82 L470.70,186.24 L473.21,185.70 L475.74,185.19 L478.28,184.72 L480.83,184.28 L483.39,183.88 L485.95,183.52 L488.53,183.19 L491.12,182.90 L493.71,182.66 L496.31,182.45 L498.91,182.28 L501.51,182.15 L504.12,182.07 L506.72,182.02 L509.33,182.02 L511.93,182.07 L514.53,182.16 L517.12,182.29 L519.71,182.47 L522.29,182.70 L524.86,182.98 L527.43,183.30 L529.98,183.67 L532.52,184.10 L535.05,184.57 L537.56,185.09 L540.06,185.67 L542.54,186.30 L545.00,186.98 L547.44,187.71 L549.87,188.50 L552.28,189.33 L554.67,190.21 L557.04,191.14 L559.40,192.12 L561.73,193.14 L564.06,194.19 L566.36,195.29 L568.65,196.43 L570.93,197.60 L573.19,198.81 L575.43,200.05 L577.66,201.32 L579.87,202.63 L582.08,203.96 L584.26,205.32 L586.44,206.70 L588.60,208.11 L590.75,209.54 L592.88,210.99 L595.01,212.45 L597.12,213.94 L599.22,215.44 L601.31,216.95 L603.38,218.48 L605.45,220.02 L607.51,221.57 L609.55,223.14 L611.59,224.72 L613.61,226.31 L615.62,227.91 L617.63,229.52 L619.62,231.15 L621.61,232.79 L623.59,234.43 L625.55,236.09 L627.51,237.76 L629.46,239.44 L631.40,241.13 L633.34,242.83 L635.26,244.53 L637.18,246.25 L639.09,247.98 L640.99,249.71 L642.88,251.46 L644.77,253.21 L646.65,254.97 L648.52,256.73 L650.39,258.51 L652.24,260.29 L654.10,262.08 L655.94,263.87 L657.78,265.67 L659.62,267.48 L661.45,269.29 L663.27,271.11 L665.09,272.94 L666.90,274.77 L668.71,276.60 L670.52,278.44 L672.32,280.28 L674.11,282.13 L675.90,283.98 L677.69,285.84 L679.47,287.70 L681.25,289.56 L683.03,291.42 L684.80,293.29 L686.57,295.16 L688.34,297.03 L690.10,298.91 L691.86,300.78 L693.62,302.66 L695.38,304.54 L697.14,306.41 L698.89,308.29 L700.64,310.17 L702.40,312.05 L704.15,313.93 L705.90,315.81 L707.66,317.69 L709.41,319.56 L711.17,321.44 L712.92,323.31 L714.68,325.18 L716.44,327.05 L718.21,328.91 L719.97,330.78 L721.74,332.64 L723.52,334.49 L725.29,336.34 L727.07,338.19 L728.86,340.04 L730.65,341.87 L732.44,343.71 L734.25,345.54 L736.05,347.36 L737.87,349.18 L739.69,350.99 L741.51,352.79 L743.35,354.59 L745.19,356.38 L747.04,358.16 L748.90,359.94 L750.77,361.71 L752.64,363.47 L754.52,365.22 L756.41,366.96 L758.31,368.69 L760.22,370.41 L762.13,372.11 L764.05,373.81 L765.98,375.49 L767.91,377.17 L769.85,378.82 L771.80,380.47 L773.75,382.10 L775.71,383.71 L777.67,385.31 L779.64,386.89 L781.62,388.46 L783.60,390.00 L785.59,391.53 L787.58,393.05 L789.58,394.54 L791.58,396.01 L793.59,397.47 L795.60,398.90 L797.62,400.32 L799.64,401.71 L801.67,403.08 L803.71,404.43 L805.76,405.76 L807.82,407.07 L809.89,408.36 L811.97,409.62 L814.07,410.86 L816.19,412.09 L818.32,413.29 L820.46,414.46 L822.63,415.62 L824.81,416.75 L827.01,417.86 L829.23,418.96 L831.47,420.03 L833.72,421.08 L835.99,422.11 L838.28,423.12 L840.58,424.11 L842.90,425.08 L845.22,426.03 L847.57,426.97 L849.93,427.88 L852.29,428.78 L854.68,429.67 L857.07,430.53 L859.48,431.38 L861.89,432.22 L864.32,433.03 L866.76,433.84 L869.21,434.62 L871.66,435.40 L874.13,436.16 L876.60,436.90 L879.08,437.63 L881.57,438.35 L884.07,439.06 L886.57,439.75 L889.08,440.43 L891.59,441.10 L894.11,441.76 L896.63,442.41 L899.16,443.05 L901.69,443.67 L904.23,444.29 L906.76,444.90 L909.30,445.50 L911.84,446.09 L914.39,446.67 L916.93,447.24 L919.47,447.81 L922.02,448.37 L924.56,448.92 L927.10,449.47 L929.64,450.01 L932.18,450.54 L934.72,451.07 L937.25,451.59 L939.78,452.11 L942.31,452.62 L944.83,453.14" stroke="#33a02c"/>
</g>
<path d="M70.00,470.00V450.00M70.00,7.00V27.00M158.65,470.00V460.00M158.65,7.00V17.00M210.51,470.00V460.00M210.51,7.00V17.00M247.31,470.00V460.00M247.31,7.00V17.00M275.85,470.00V460.00M275.85,7.00V17.00M299.17,470.00V460.00M299.17,7.00V17.00M318.88,470.00V460.00M318.88,7.00V17.00M335.96,470.00V460.00M335.96,7.00V17.00M351.02,470.00V460.00M351.02,7.00V17.00M364.50,470.00V450.00M364.50,7.00V27.00M453.15,470.00V460.00M453.15,7.00V17.00M505.01,470.00V460.00M505.01,7.00V17.00M541.81,470.00V460.00M541.81,7.00V17.00M570.35,470.00V460.00M570.35,7.00V17.00M593.67,470.00V460.00M593.67,7.00V17.00M613.38,470.00V460.00M613.38,7.00V17.00M630.46,470.00V460.00M630.46,7.00V17.00M645.52,470.00V460.00M645.52,7.00V17.00M659.00,470.00V450.00M659.00,7.00V27.00M747.65,470.00V460.00M747.65,7.00V17.00M799.51,470.00V460.00M799.51,7.00V17.00M836.31,470.00V460.00M836.31,7.00V17.00M864.85,470.00V460.00M864.85,7.00V17.00M888.17,470.00V460.00M888.17,7.00V17.00M907.88,470.00V460.00M907.88,7.00V17.00M924.96,470.00V460.00M924.96,7.00V17.00M940.02,470.00V460.00M940.02,7.00V17.00M953.50,470.00V450.00M953.50,7.00V27.00" stroke="#000" stroke-width="7.4" stroke-linecap="round" fill="none"/>
<rect x="70.00" y="7.00" width="883.50" height="463.00" fill="none" stroke="#000" stroke-width="8" stroke-linejoin="round"/>
<text x="93.65" y="75.65" font-size="45.25" fill="#000" textLength="186.23" lengthAdjust="spacingAndGlyphs">insulator</text>
<text x="766.50" y="75.20" font-size="44.71" fill="#000" textLength="124.12" lengthAdjust="spacingAndGlyphs">metal</text>
<text x="174.85" y="165.65" font-size="44.92" fill="#e31a1c" textLength="26.03" lengthAdjust="spacingAndGlyphs">S</text>
<text x="497.50" y="165.80" font-size="45.24" fill="#33a02c" textLength="57.27" lengthAdjust="spacingAndGlyphs">ZT</text>
<text x="621.50" y="111.85" font-size="44.96" fill="#1f78b4" textLength="26.71" lengthAdjust="spacingAndGlyphs" style="font-family:&quot;Liberation Serif&quot;,serif">σ</text>
<text x="821.25" y="184.20" font-size="43.91" fill="#b2df8a" textLength="23.80" lengthAdjust="spacingAndGlyphs">κ</text>
<text x="848.75" y="306.30" font-size="45.62" fill="#fdbf6f" textLength="26.38" lengthAdjust="spacingAndGlyphs">S</text>
<text x="875.75" y="289.85" font-size="34.87" fill="#fdbf6f" textLength="20.05" lengthAdjust="spacingAndGlyphs">2</text>
<text x="896.85" y="306.50" font-size="45.02" fill="#fdbf6f" textLength="26.51" lengthAdjust="spacingAndGlyphs">σ</text>
<text transform="translate(33.35,294.60) rotate(-90)" font-size="41.86" fill="#000" textLength="12.06" lengthAdjust="spacingAndGlyphs">[</text>
<text transform="translate(37.20,278.15) rotate(-90)" font-size="46.20" fill="#000" textLength="79.73" lengthAdjust="spacingAndGlyphs">a.u.</text>
<text transform="translate(33.35,194.80) rotate(-90)" font-size="41.86" fill="#000" textLength="13.44" lengthAdjust="spacingAndGlyphs">]</text>
<text x="22.05" y="537.20" font-size="47.17" fill="#000" textLength="53.47" lengthAdjust="spacingAndGlyphs">10</text>
<text x="77.60" y="520.90" font-size="36.63" fill="#000" textLength="42.14" lengthAdjust="spacingAndGlyphs">18</text>
<text x="315.85" y="537.20" font-size="47.17" fill="#000" textLength="53.69" lengthAdjust="spacingAndGlyphs">10</text>
<text x="370.80" y="520.90" font-size="36.63" fill="#000" textLength="42.95" lengthAdjust="spacingAndGlyphs">19</text>
<text x="609.85" y="537.20" font-size="47.17" fill="#000" textLength="54.80" lengthAdjust="spacingAndGlyphs">10</text>
<text x="665.10" y="520.90" font-size="36.63" fill="#000" textLength="43.78" lengthAdjust="spacingAndGlyphs">20</text>
<text x="904.05" y="537.20" font-size="47.17" fill="#000" textLength="54.58" lengthAdjust="spacingAndGlyphs">10</text>
<text x="958.90" y="521.15" font-size="37.00" fill="#000" textLength="42.79" lengthAdjust="spacingAndGlyphs">21</text>
<text x="212.30" y="612.20" font-size="46.20" fill="#000" textLength="451.32" lengthAdjust="spacingAndGlyphs">carrier concentration</text>
<text x="677.95" y="609.05" font-size="41.36" fill="#000" textLength="12.30" lengthAdjust="spacingAndGlyphs">[</text>
<text x="694.60" y="612.20" font-size="46.20" fill="#000" textLength="64.93" lengthAdjust="spacingAndGlyphs">cm</text>
<text x="760.15" y="598.00" font-size="39.60" fill="#000" textLength="13.33" lengthAdjust="spacingAndGlyphs">-</text>
<text x="773.35" y="595.55" font-size="34.35" fill="#000" textLength="18.91" lengthAdjust="spacingAndGlyphs">3</text>
<text x="797.95" y="609.05" font-size="41.25" fill="#000" textLength="11.93" lengthAdjust="spacingAndGlyphs">]</text>
</svg></body></html>
